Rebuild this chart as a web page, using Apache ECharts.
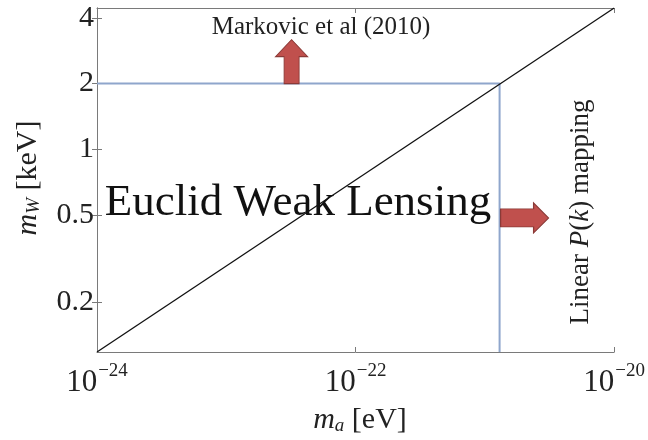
<!DOCTYPE html>
<html><head><meta charset="utf-8">
<script src="https://cdn.jsdelivr.net/npm/echarts@6/dist/echarts.min.js"></script>
<style>html,body{margin:0;padding:0;background:#fff}#c{width:648px;height:440px}</style>
</head><body><div id="c"></div>
<script>
// ---- data ----
const xRange = [1e-24, 1e-20];            // m_a [eV]
const yRange = [0.118, 4.44];             // m_W [keV]
const yTickValues = [0.2, 0.5, 1, 2, 4];
const xTickValues = [1e-24, 1e-22, 1e-20];
const diagonalLine = [[1e-24, 0.118], [1e-20, 4.44]];
const limitLine = [[1e-24, 2], [1.3e-21, 2], [1.3e-21, 0.118]];
const upArrowAt = [[3.2e-23, 2]];
const rightArrowAt = [[1.3e-21, 0.485]];
const labels = {
  markovic: 'Markovic et al (2010)',
  euclid: 'Euclid Weak Lensing'
};

const serif = '"Liberation Serif", "DejaVu Serif", serif';
const frame = '#7a7a7a';
const arrowFill = '#c0504d';
const arrowEdge = '#8a3a37';
const blue = '#8fa6cc';

function expOf(v){ return Math.round(Math.log10(v)); }

const chart = echarts.init(document.getElementById('c'), null, {renderer:'canvas'});
const baseAxisLine = {show:true, lineStyle:{color:frame, width:1}};
const option = {
  animation:false,
  backgroundColor:'#fff',
  grid:{left:97, right:30, top:8, bottom:88, containLabel:false},
  xAxis:[{
    type:'log', logBase:10, min:xRange[0], max:xRange[1], position:'bottom',
    axisLine:baseAxisLine,
    axisTick:{show:true, inside:true, length:5, lineStyle:{color:frame}, customValues:xTickValues},
    splitLine:{show:false},
    axisLabel:{
      customValues:xTickValues, margin:10, color:'#222', fontFamily:serif,
      formatter:function(v){ return '{b|10}{s|\u2212' + Math.abs(expOf(v)) + '}'; },
      rich:{
        b:{fontSize:31, fontFamily:serif, color:'#222', verticalAlign:'bottom', lineHeight:36},
        s:{fontSize:19, fontFamily:serif, color:'#222', verticalAlign:'top', lineHeight:36, padding:[0,0,0,1]}
      }
    }
  },{
    type:'log', logBase:10, min:xRange[0], max:xRange[1], position:'top',
    axisLine:baseAxisLine,
    axisTick:{show:true, inside:true, length:5, lineStyle:{color:frame}, customValues:xTickValues},
    axisLabel:{show:false}, splitLine:{show:false}
  }],
  yAxis:[{
    type:'log', logBase:10, min:yRange[0], max:yRange[1], position:'left',
    axisLine:baseAxisLine,
    axisTick:{show:true, inside:true, length:5, lineStyle:{color:frame}, customValues:yTickValues},
    splitLine:{show:false},
    axisLabel:{customValues:yTickValues, margin:3, color:'#222', fontFamily:serif, fontSize:30,
      formatter:function(v){ return String(+v.toPrecision(3)); }}
  },{
    type:'log', logBase:10, min:yRange[0], max:yRange[1], position:'right',
    axisLine:baseAxisLine,
    axisTick:{show:true, inside:true, length:5, lineStyle:{color:frame}, customValues:yTickValues},
    axisLabel:{show:false}, splitLine:{show:false}
  }],
  series:[
    {type:'line', data:limitLine, symbol:'none', lineStyle:{color:blue, width:2}, z:2},
    {type:'line', data:diagonalLine, symbol:'none', lineStyle:{color:'#111', width:1.3}, z:3},
    {type:'scatter', data:upArrowAt, z:4,
      symbol:'path://M8.5,44 L8.5,17 L0,17 L16,0 L32,17 L23.5,17 L23.5,44 Z',
      symbolSize:[32,44], symbolOffset:[0,-22], symbolKeepAspect:false,
      itemStyle:{color:arrowFill, borderColor:arrowEdge, borderWidth:1, opacity:1}},
    {type:'scatter', data:rightArrowAt, z:4,
      symbol:'path://M0,6 L33,6 L33,0 L48,15 L33,30 L33,24 L0,24 Z',
      symbolSize:[48,30], symbolOffset:[25,0], symbolKeepAspect:false,
      itemStyle:{color:arrowFill, borderColor:arrowEdge, borderWidth:1, opacity:1}}
  ],
  graphic:[
    {type:'text', x:321, y:27, z:10, style:{text:labels.markovic, font:'25px '+serif, fill:'#222', align:'center', verticalAlign:'middle'}},
    {type:'text', x:298, y:203, z:10, style:{text:labels.euclid, font:'45px '+serif, fill:'#111', align:'center', verticalAlign:'middle'}},
    {type:'text', x:581, y:212, rotation:Math.PI/2, z:10,
      style:{text:'{n|Linear }{i|P}{n|(}{i|k}{n|) mapping}', align:'center', verticalAlign:'middle',
        rich:{n:{fontSize:27, fontFamily:serif, fill:'#222'}, i:{fontSize:27, fontFamily:serif, fontStyle:'italic', fill:'#222'}}}},
    {type:'text', x:360, y:417, z:10,
      style:{text:'{i|m}{s|a}{n| [eV]}', align:'center', verticalAlign:'middle',
        rich:{i:{fontSize:30, fontFamily:serif, fontStyle:'italic', fill:'#222', verticalAlign:'bottom', lineHeight:36},
              s:{fontSize:19, fontFamily:serif, fontStyle:'italic', fill:'#222', verticalAlign:'bottom', lineHeight:31},
              n:{fontSize:30, fontFamily:serif, fill:'#222', verticalAlign:'bottom', lineHeight:36}}}},
    {type:'text', x:25, y:178, rotation:Math.PI/2, z:10,
      style:{text:'{i|m}{s|W}{n| [keV]}', align:'center', verticalAlign:'middle',
        rich:{i:{fontSize:30, fontFamily:serif, fontStyle:'italic', fill:'#222', verticalAlign:'bottom', lineHeight:36},
              s:{fontSize:19, fontFamily:serif, fontStyle:'italic', fill:'#222', verticalAlign:'bottom', lineHeight:31},
              n:{fontSize:30, fontFamily:serif, fill:'#222', verticalAlign:'bottom', lineHeight:36}}}}
  ]
};
chart.setOption(option);
</script></body></html>
